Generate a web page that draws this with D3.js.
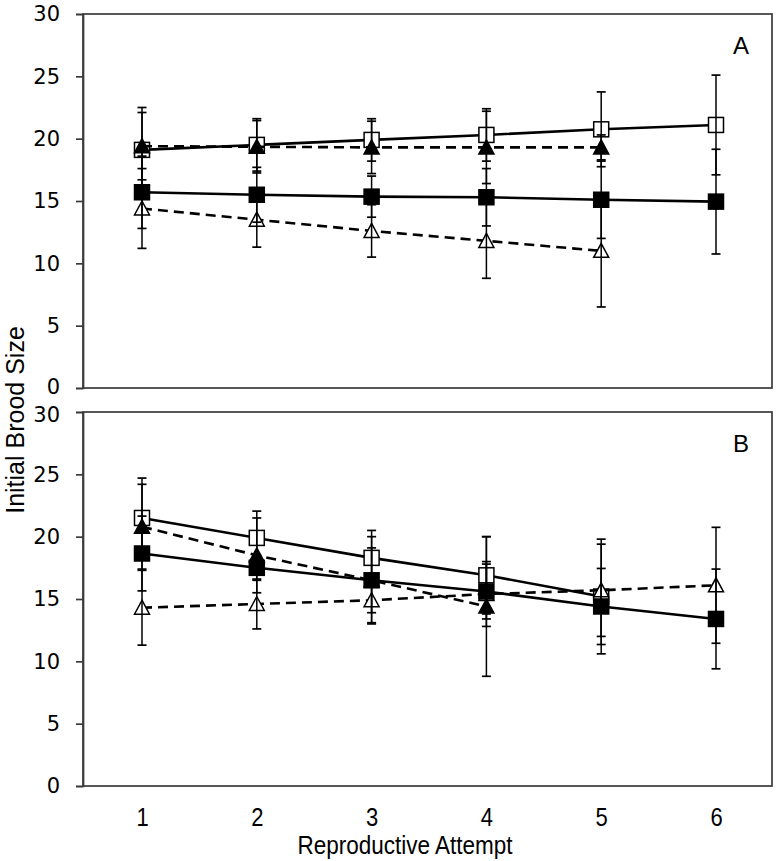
<!DOCTYPE html>
<html>
<head>
<meta charset="utf-8">
<script src="https://cdn.jsdelivr.net/npm/d3@7"></script>
<style>
  html, body { margin: 0; padding: 0; background: #fff; }
  svg { display: block; font-family: "Liberation Sans", Arial, sans-serif; }
</style>
</head>
<body>
<svg id="chart" width="777" height="861"></svg>
<script>
// ---- Data ----
const attempts = [1, 2, 3, 4, 5, 6];
const yTicks = [0, 5, 10, 15, 20, 25, 30];
const panelLabels = ["A", "B"];

// Panel A
const openSquareA = [19.1, 19.5, 19.9, 20.3, 20.75, 21.1];
const openSquareAErr = [3.4, 2.1, 1.7, 2.1, 3.0, 4.0];
const filledSquareA = [15.7, 15.5, 15.35, 15.3, 15.1, 14.95];
const filledSquareAErr = [2.9, 2.2, 1.65, 2.3, 3.1, 4.2];
const filledTriangleA = [19.4, 19.35, 19.3, 19.3, 19.3];
const filledTriangleAErr = [2.7, 2.1, 2.1, 2.9, 1.0];
const openTriangleA = [14.4, 13.5, 12.6, 11.8, 11.0];
const openTriangleAErr = [3.2, 2.2, 2.1, 3.0, 4.5];

// Panel B
const openSquareB = [21.5, 19.9, 18.3, 16.9, 15.2];
const openSquareBErr = [3.2, 2.15, 2.2, 3.1, 4.6];
const filledSquareB = [18.65, 17.5, 16.5, 15.6, 14.4, 13.4];
const filledSquareBErr = [3.0, 1.0, 2.6, 2.2, 3.05, 4.0];
const filledTriangleB = [20.8, 18.5, 16.5, 14.4];
const filledTriangleBErr = [3.4, 3.0, 3.5, 5.6];
const openTriangleB = [14.3, 14.6, 14.9, 15.4, 15.7, 16.1];
const openTriangleBErr = [3.0, 2.0, 1.8, 2.6, 3.7, 4.65];

const xTitle = "Reproductive Attempt";
const yTitle = "Initial Brood Size";

// ---- Build series tables (drawing order: open sq, open tri, filled tri, filled sq) ----
function mk(vals, errs, shape, fill, dash) {
  return { shape, fill, dash, pts: vals.map((v, i) => ({ x: attempts[i], y: v, e: errs[i] })) };
}
const panels = [
  { label: panelLabels[0], top: 14, bottom: 388, showX: false, series: [
    mk(openSquareA, openSquareAErr, "sq", "#fff", false),
    mk(openTriangleA, openTriangleAErr, "tri", "#fff", true),
    mk(filledTriangleA, filledTriangleAErr, "tri", "#000", true),
    mk(filledSquareA, filledSquareAErr, "sq", "#000", false)
  ]},
  { label: panelLabels[1], top: 412, bottom: 786, showX: true, series: [
    mk(openSquareB, openSquareBErr, "sq", "#fff", false),
    mk(openTriangleB, openTriangleBErr, "tri", "#fff", true),
    mk(filledTriangleB, filledTriangleBErr, "tri", "#000", true),
    mk(filledSquareB, filledSquareBErr, "sq", "#000", false)
  ]}
];

const svg = d3.select("#chart");
const left = 83, right = 772;
const x = d3.scaleLinear().domain([1, 6]).range([142, 716]);

panels.forEach((p, pi) => {
  const y = d3.scaleLinear().domain([0, 30]).range([p.bottom, p.top]);
  const g = svg.append("g");

  // frame
  g.append("rect").attr("x", left).attr("y", p.top)
    .attr("width", right - left).attr("height", p.bottom - p.top)
    .attr("fill", "none").attr("stroke", "#3a3a3a").attr("stroke-width", 1.7);

  // y axis
  const ax = g.append("g").attr("transform", `translate(${left},0)`)
    .call(d3.axisLeft(y).tickValues(yTicks).tickSize(7).tickPadding(16));
  ax.select(".domain").attr("stroke", "#3a3a3a").attr("stroke-width", 1.7);
  ax.selectAll(".tick line").attr("stroke", "#3a3a3a").attr("stroke-width", 1.7);
  ax.selectAll(".tick text").attr("font-size", 21).attr("fill", "#000")
    .attr("font-family", "'DejaVu Sans', sans-serif")
    .attr("dy", d => {
      if (pi === 0 && d === 0) return "0.24em";
      if (pi === 1 && d === 30) return "0.44em";
      return "0.32em";
    });

  if (p.showX) {
    const xa = g.append("g").attr("transform", `translate(0,${p.bottom})`)
      .call(d3.axisBottom(x).tickValues(attempts).tickSize(0).tickPadding(22).tickFormat(d3.format("d")));
    xa.select(".domain").remove();
    xa.selectAll(".tick text").attr("font-size", 25).attr("fill", "#000")
      .attr("transform", "scale(0.88,1)")
      .attr("font-family", "'Liberation Sans', Arial, sans-serif");
  }

  // panel letter
  g.append("text").attr("x", 741).attr("y", p.top + 40)
    .attr("text-anchor", "middle").attr("font-size", 24).text(p.label);

  const line = d3.line().x(d => x(d.x)).y(d => y(d.y));

  // each series: line then markers
  p.series.forEach(s => {
    g.append("path").datum(s.pts).attr("d", line)
      .attr("fill", "none").attr("stroke", "#000").attr("stroke-width", 2.6)
      .attr("stroke-dasharray", s.dash ? "10,6" : null);
    s.pts.forEach(d => {
      const cx = x(d.x), cy = y(d.y);
      if (s.shape === "sq") {
        g.append("rect").attr("x", cx - 7.5).attr("y", cy - 7.5).attr("width", 15).attr("height", 15)
          .attr("fill", s.fill).attr("stroke", "#000").attr("stroke-width", 1.5);
      } else {
        g.append("path")
          .attr("d", `M${cx},${cy - 7.5} L${cx + 7.5},${cy + 6.5} L${cx - 7.5},${cy + 6.5} Z`)
          .attr("fill", s.fill).attr("stroke", "#000").attr("stroke-width", 1.5);
      }
    });
  });

  // error bars
  p.series.forEach(s => {
    s.pts.forEach(d => {
      const cx = x(d.x), y1 = y(d.y + d.e), y0 = y(d.y - d.e);
      g.append("line").attr("x1", cx).attr("x2", cx).attr("y1", y1).attr("y2", y0)
        .attr("stroke", "#000").attr("stroke-width", 1.5);
      [y1, y0].forEach(yy => g.append("line").attr("x1", cx - 4.5).attr("x2", cx + 4.5)
        .attr("y1", yy).attr("y2", yy).attr("stroke", "#000").attr("stroke-width", 1.7));
    });
  });
});

// axis titles
svg.append("text").attr("transform", "translate(405,854) scale(0.9,1)")
  .attr("text-anchor", "middle").attr("font-size", 25).text(xTitle);
svg.append("text").attr("transform", "translate(23.5,420) rotate(-90)")
  .attr("text-anchor", "middle").attr("font-size", 25).text(yTitle);
</script>
</body>
</html>
